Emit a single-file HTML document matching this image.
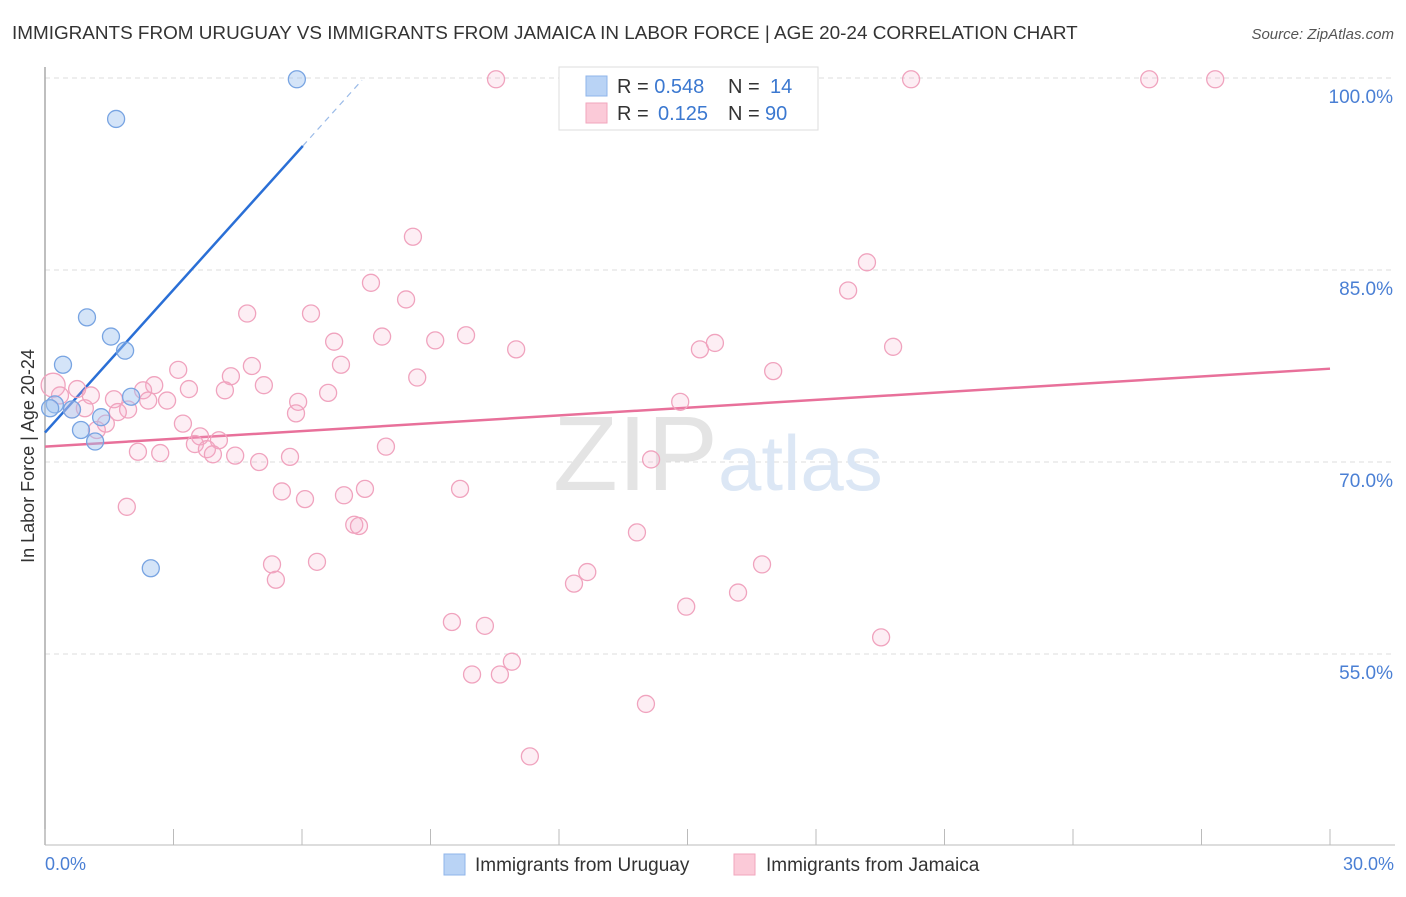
<!DOCTYPE html>
<html><head><meta charset="utf-8"><style>
body{margin:0;background:#fff;font-family:"Liberation Sans",sans-serif;}
svg text{font-family:"Liberation Sans",sans-serif;}
</style></head><body>
<svg id="chart" width="1406" height="892" viewBox="0 0 1406 892" xmlns="http://www.w3.org/2000/svg">
<text x="12" y="39" font-size="18.9" fill="#333">IMMIGRANTS FROM URUGUAY VS IMMIGRANTS FROM JAMAICA IN LABOR FORCE | AGE 20-24 CORRELATION CHART</text>
<text x="1394" y="39" font-size="15" fill="#555" text-anchor="end" font-style="italic">Source: ZipAtlas.com</text>
<g id="grid"></g>
<text x="553" y="490" font-size="106" fill="#e4e4e4" font-family="Liberation Serif">ZIP</text>
<text x="718" y="490" font-size="78" fill="#dce7f5">atlas</text>
<line x1="45" y1="67" x2="45" y2="845" stroke="#aaa" stroke-width="1.5"/>
<line x1="45" y1="845" x2="1395" y2="845" stroke="#bbb" stroke-width="1"/>
<g id="xticks"></g>
<text transform="translate(34,456) rotate(-90)" font-size="18" fill="#333" text-anchor="middle">In Labor Force | Age 20-24</text>
<text x="45" y="870" font-size="18" fill="#4a7fd4">0.0%</text>
<text x="1394" y="870" font-size="18" fill="#4a7fd4" text-anchor="end">30.0%</text>
<g id="lines"></g>
<g id="pink"></g>
<g id="blue"></g>
<g>
<rect x="559" y="67" width="259" height="63" fill="#fff" stroke="#ddd"/>
<rect x="586" y="76" width="21" height="20" fill="#b9d3f5" stroke="#8fb4ea"/>
<rect x="586" y="103" width="21" height="20" fill="#fbcad8" stroke="#f1a6bd"/>
<text x="617" y="93" font-size="20" fill="#333">R = <tspan fill="#3b78d0">0.548</tspan><tspan x="728">N = </tspan><tspan x="770" fill="#3b78d0">14</tspan></text>
<text x="617" y="120" font-size="20" fill="#333">R = <tspan x="658" fill="#3b78d0">0.125</tspan><tspan x="728">N = </tspan><tspan x="765" fill="#3b78d0">90</tspan></text>
</g>
<g>
<rect x="444" y="854" width="21" height="21" fill="#b9d3f5" stroke="#8fb4ea"/>
<text x="475" y="871" font-size="19" fill="#333">Immigrants from Uruguay</text></g>
<g>
<rect x="734" y="854" width="21" height="21" fill="#fbcad8" stroke="#f1a6bd"/>
<text x="766" y="871" font-size="19" fill="#333">Immigrants from Jamaica</text></g>
</svg>
<script>
const yTicks=[100,85,70,55];
const yTickLabels=["100.0%","85.0%","70.0%","55.0%"];
const xTicks=[0,3,6,9,12,15,18,21,24,27,30];
const blueX=[5.88,1.66,0.98,1.54,1.87,0.42,0.23,0.63,1.31,2.01,0.84,1.17,2.47,0.12];
const blueY=[99.9,96.8,81.3,79.8,78.7,77.6,74.5,74.1,73.5,75.1,72.5,71.6,61.7,74.2];
const pinkX=[10.53,20.22,25.78,27.32,8.59,19.19,7.61,18.75,8.43,4.72,6.21,7.87,9.83,9.11,6.75,11.0,15.64,15.29,19.8,6.91,3.11,4.83,17.0,4.34,8.69,2.55,5.11,3.36,4.2,0.19,0.75,2.29,6.61,1.61,2.41,2.85,5.91,1.07,0.35,0.63,0.93,1.94,1.7,5.86,14.83,3.22,1.42,1.21,3.62,4.06,3.5,3.78,3.92,2.17,2.69,4.44,7.96,5.72,5.0,14.15,5.53,6.07,6.98,7.47,9.69,1.91,7.22,7.33,13.82,5.3,5.39,6.35,16.74,12.66,12.35,16.18,14.97,9.5,10.27,19.52,10.9,9.97,10.62,14.03,11.32];
const pinkY=[99.9,99.9,99.9,99.9,87.6,85.6,84.0,83.4,82.7,81.6,81.6,79.8,79.9,79.5,79.4,78.8,79.3,78.8,79.0,77.6,77.2,77.5,77.1,76.7,76.6,76.0,76.0,75.7,75.6,76.0,75.7,75.6,75.4,74.9,74.8,74.8,74.7,75.2,75.2,74.1,74.2,74.1,73.9,73.8,74.7,73.0,73.0,72.5,72.0,71.7,71.4,71.0,70.6,70.8,70.7,70.5,71.2,70.4,70.0,70.2,67.7,67.1,67.4,67.9,67.9,66.5,65.1,65.0,64.5,62.0,60.8,62.2,62.0,61.4,60.5,59.8,58.7,57.5,57.2,56.3,54.4,53.4,53.4,51.1,47.0];
const blueFit=[72.3,3.72];
const pinkFit=[71.2,0.203];
const NS="http://www.w3.org/2000/svg";
const sx=v=>45+v*1285/30;
const sy=v=>78+(100-v)*12.8;
function mk(tag,attrs,parent){const e=document.createElementNS(NS,tag);for(const k in attrs)e.setAttribute(k,attrs[k]);document.getElementById(parent).appendChild(e);return e;}
yTicks.forEach((t,i)=>{
 const l=mk('line',{x1:45,x2:1395,y1:sy(t),y2:sy(t),stroke:'#ddd','stroke-dasharray':'5,4'},'grid');
 
 
 const tx=mk('text',{x:1393,y:sy(t)+25,'font-size':19,fill:'#4a7fd4','text-anchor':'end'},'grid');
 tx.textContent=yTickLabels[i];
 
 
});
xTicks.forEach(t=>{
 const l=mk('line',{x1:sx(t),x2:sx(t),y1:829,y2:845,stroke:'#bbb'},'xticks');
 
 
});
let l1=mk('line',{x1:sx(0),y1:sy(blueFit[0]),x2:sx(6.02),y2:sy(blueFit[0]+blueFit[1]*6.02),stroke:'#2a6fd6','stroke-width':2.5},'lines');


let l2=mk('line',{x1:sx(6.02),y1:sy(blueFit[0]+blueFit[1]*6.02),x2:sx(7.4),y2:sy(blueFit[0]+blueFit[1]*7.4),stroke:'#9bbbe8','stroke-width':1.2,'stroke-dasharray':'6,5'},'lines');


let l3=mk('line',{x1:sx(0),y1:sy(pinkFit[0]),x2:sx(30),y2:sy(pinkFit[0]+pinkFit[1]*30),stroke:'#e8709a','stroke-width':2.5},'lines');


pinkX.forEach((x,i)=>{
 const c=mk('circle',{cx:sx(x),cy:sy(pinkY[i]),r:(i==29?12:8.5),fill:'rgba(247,170,198,0.2)',stroke:'#f0a3be','stroke-width':1.3},'pink');
 
 
});
blueX.forEach((x,i)=>{
 const c=mk('circle',{cx:sx(x),cy:sy(blueY[i]),r:8.5,fill:'rgba(160,195,240,0.45)',stroke:'#78a4e2','stroke-width':1.3},'blue');
 
 
});
</script>
</body></html>
